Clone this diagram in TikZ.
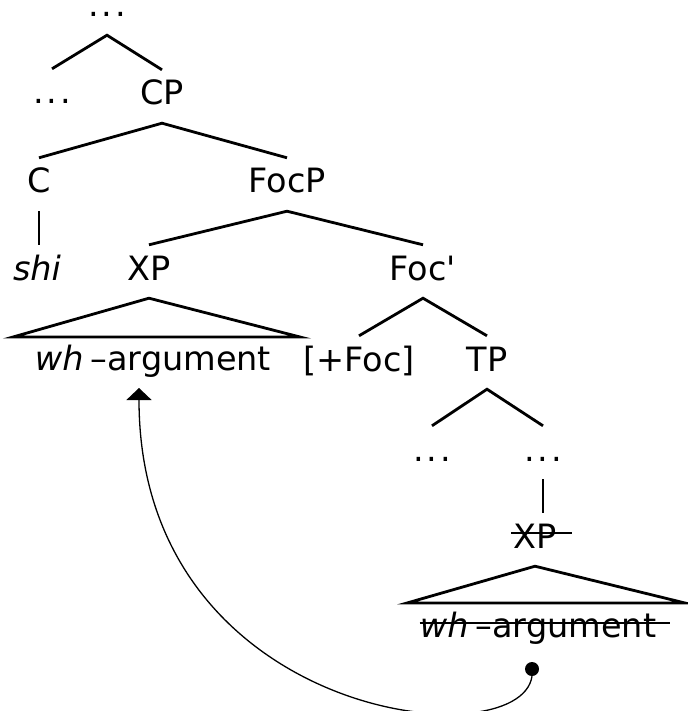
\documentclass[tikz,border=0pt]{standalone}
\usepackage{fontspec}
\setmainfont{DejaVu Sans}[Ligatures=TeXOff]
\usetikzlibrary{arrows.meta}
\newcommand{\mydots}{.\kern3pt.\kern3pt.}
\newcommand{\whdash}{{\itshape wh}\hspace{7pt}–argument}
\begin{document}
\begin{tikzpicture}[x=1pt,y=-1pt,
  lab/.style={anchor=base,inner sep=10pt,text height=25pt,text depth=8pt,font=\fontsize{33.5}{40}\selectfont},
  branch/.style={line width=2.8pt},
  strike/.style={line width=2.2pt},
  move/.style={line width=1.3pt,-{Triangle[width=25pt,length=12pt]}}]
\useasboundingbox (0,0) rectangle (687,711);
% nodes
\node[lab,text height=6pt] (top) at (107,17) {\mydots};
\node[lab] (dl) at (52,104) {\mydots};
\node[lab] (cp) at (162,105) {CP};
\node[lab] (c) at (39,193) {C};
\node[lab] (focp) at (287,193) {FocP};
\node[lab] (shi) at (37,280) {\itshape shi};
\node[lab] (xp) at (149,280) {XP};
\node[lab] (focbar) at (423,280) {Foc'};
\node[lab] (wh) at (153,370) {\whdash};
\node[lab] (foc) at (359,371) {[+Foc]};
\node[lab] (tp) at (487,371) {TP};
\node[lab] (d1) at (432,461) {\mydots};
\node[lab] (d2) at (543,461) {\mydots};
\node[lab] (xp2) at (535,548) {XP};
\node[lab] (wh2) at (538,637) {\whdash};
\node[circle,fill=black,inner sep=0pt,minimum size=14pt] (dot) at (532,669) {};
% triangle corners
\coordinate (t1l) at (13,337);
\coordinate (t1r) at (300,337);
\coordinate (t2l) at (407,603);
\coordinate (t2r) at (685,603);
\coordinate (tip) at (139,388);
% branches
\draw[branch] (dl.north) -- (top.south) -- (cp.north);
\draw[branch] (c.north) -- (cp.south) -- (focp.north);
\draw[branch] (c.south) -- (c.south |- shi.north);
\draw[branch] (xp.north) -- (focp.south) -- (focbar.north);
\draw[branch] (foc.north) -- (focbar.south) -- (tp.north);
\draw[branch] (d1.north) -- (tp.south) -- (d2.north);
\draw[branch] (d2.south) -- (d2.south |- xp2.north);
\draw[branch,line join=miter] (xp.south) -- (t1r) -- (t1l) -- cycle;
\draw[branch,line join=miter] (xp2.south) -- (t2r) -- (t2l) -- cycle;
% strike-throughs
\draw[strike] ([xshift=8pt,yshift=15pt]xp2.base west) -- ([xshift=5pt,yshift=15pt]xp2.base east);
\draw[strike] ([xshift=10pt,yshift=14pt]wh2.base west) -- ([xshift=4pt,yshift=14pt]wh2.base east);
% movement arrow
\draw[move] (dot.south) .. controls (520,760) and (139,720) .. (tip);
\end{tikzpicture}
\end{document}
